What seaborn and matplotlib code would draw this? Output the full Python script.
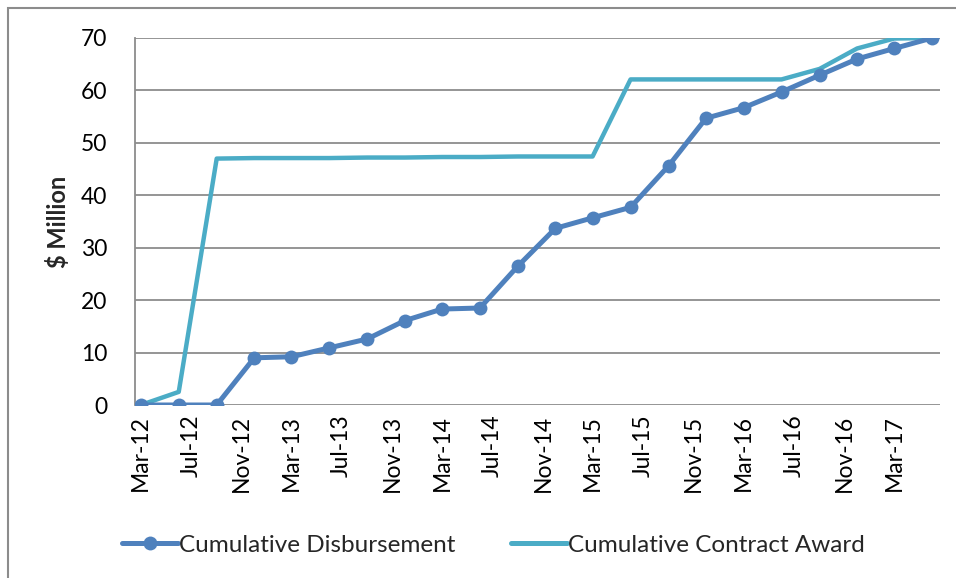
import pandas as pd
import seaborn as sns
import matplotlib
matplotlib.use('Agg')
from matplotlib import pyplot as plt
import matplotlib.dates as mdates
from matplotlib.patches import Rectangle
from matplotlib.lines import Line2D

# quarterly dates, Mar-12 .. Jun-17
quarters = pd.date_range('2012-03-01', '2017-06-01', freq='3MS')

disbursement = [0, 0, 0, 9.0, 9.2, 10.9, 12.6, 16.1, 18.3, 18.5, 26.5, 33.7,
                35.7, 37.7, 45.6, 54.7, 56.7, 59.7, 62.9, 66.0, 68.0, 70.0]
contract_award = [0, 2.5, 47.0, 47.1, 47.1, 47.1, 47.2, 47.2, 47.3, 47.3, 47.4, 47.4,
                  47.4, 62.1, 62.1, 62.1, 62.1, 62.1, 64.1, 68.0, 69.9, 70.0]

df = pd.DataFrame({'date': quarters,
                   'Cumulative Disbursement': disbursement,
                   'Cumulative Contract Award': contract_award})

c_disb = '#4F81BD'
c_award = '#4BACC6'
grey = '#8C8C8C'

sns.set_style('white')
plt.rcParams['font.family'] = ['Lato', 'DejaVu Sans']

fig = plt.figure(figsize=(9.56, 5.78), dpi=100)
ax = fig.add_axes([135 / 956, 1 - 405 / 578, 805 / 956, 367 / 578])

# chart area border
fig.patches.append(Rectangle((8 / 956, -0.05), 1.1, 1 - 8 / 578 + 0.05,
                             transform=fig.transFigure, fill=False,
                             edgecolor=grey, linewidth=1.5))

sns.lineplot(data=df, x='date', y='Cumulative Contract Award', ax=ax,
             color=c_award, linewidth=3.2, zorder=3)
sns.lineplot(data=df, x='date', y='Cumulative Disbursement', ax=ax,
             color=c_disb, linewidth=3.6, marker='o', markersize=10,
             markeredgewidth=0, zorder=4)

ax.set_ylim(0, 70)
ax.set_yticks(range(0, 71, 10))
ax.set_xlim(mdates.date2num(pd.Timestamp('2012-02-16')),
            mdates.date2num(pd.Timestamp('2017-06-20')))
ax.xaxis.set_major_locator(mdates.MonthLocator(bymonth=(3, 7, 11)))
ax.xaxis.set_major_formatter(mdates.DateFormatter('%b-%y'))
plt.setp(ax.get_xticklabels(), rotation=90)

ax.yaxis.grid(True, color=grey, linewidth=1.3)
ax.set_axisbelow(True)
for s in ['top', 'right', 'bottom']:
    ax.spines[s].set_visible(False)
ax.spines['left'].set_color(grey)
ax.spines['left'].set_linewidth(1.3)
ax.tick_params(axis='both', length=0, labelsize=16.5, colors='black')
ax.tick_params(axis='y', pad=20)
ax.tick_params(axis='x', pad=7)

ax.set_xlabel('')
ax.set_ylabel('$ Million', fontsize=17, fontweight='bold', labelpad=8)

handles = [Line2D([], [], color=c_disb, linewidth=3.6, marker='o', markersize=10,
                  markeredgewidth=0),
           Line2D([], [], color=c_award, linewidth=3.6)]
fig.legend(handles, ['Cumulative Disbursement', 'Cumulative Contract Award'],
           loc='center', bbox_to_anchor=(0.516, 1 - 545 / 578), ncol=2,
           frameon=False, fontsize=17.5, handlelength=2.3, handletextpad=0.05,
           columnspacing=2.3)

fig.savefig('out.png', dpi=100)
